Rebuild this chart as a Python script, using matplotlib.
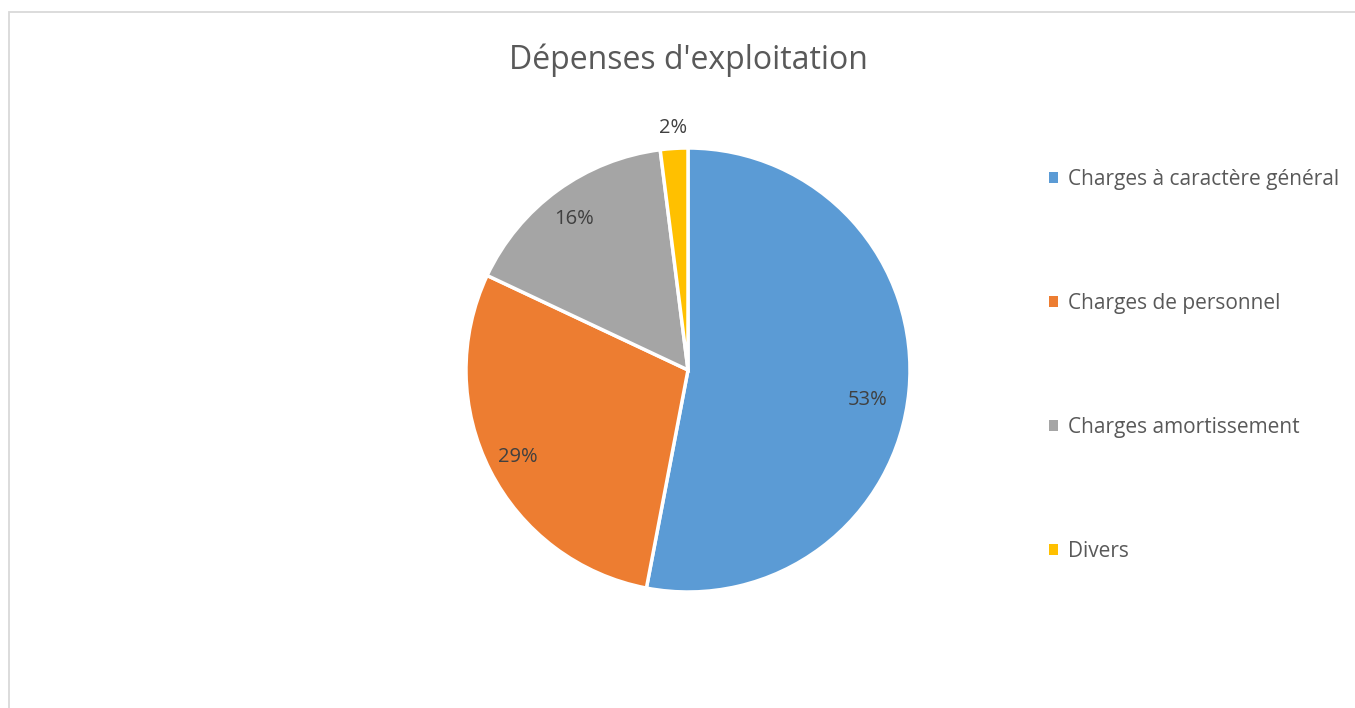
import numpy as np
import matplotlib.pyplot as plt
from matplotlib.patches import Patch, Rectangle

# data
categories = ["Charges à caractère général", "Charges de personnel",
              "Charges amortissement", "Divers"]
values = [53, 29, 16, 2]
colors = ["#5B9BD5", "#ED7D31", "#A5A5A5", "#FFC000"]
title = "Dépenses d'exploitation"

# label placement (radius as fraction of pie radius, angle nudge in degrees)
label_radius = [0.82, 0.86, 0.85, 1.09]
label_nudge = [-4, 0, 1, 0]

plt.rcParams['font.family'] = ['Open Sans', 'DejaVu Sans']

fig = plt.figure(figsize=(13.55, 7.08), dpi=100)

# outer chart border
fig.patches.append(Rectangle((9 / 1355, -0.01), 1.0, (708 - 12) / 708 + 0.01,
                             transform=fig.transFigure, fill=False,
                             edgecolor="#D9D9D9", linewidth=1.3))

cx, cy, r = 688, 370, 222
ax = fig.add_axes([(cx - r) / 1355, (708 - cy - r) / 708, 2 * r / 1355, 2 * r / 708])
wedges, _ = ax.pie(values, colors=colors, startangle=90, counterclock=False,
                   radius=1, wedgeprops=dict(edgecolor="white", linewidth=2.5))
ax.set_xlim(-1, 1)
ax.set_ylim(-1, 1)
ax.set_aspect("equal")
ax.axis("off")

total = sum(values)
for w, v, rr, dn in zip(wedges, values, label_radius, label_nudge):
    ang = np.deg2rad((w.theta1 + w.theta2) / 2 + dn)
    ax.text(rr * np.cos(ang), rr * np.sin(ang), "%d%%" % round(100 * v / total),
            ha="center", va="center", fontsize=14.5, color="#404040")

fig.text(cx / 1355, 1 - 60 / 708, title, ha="center", va="center",
         fontsize=23, color="#595959")

handles = [Patch(facecolor=c, edgecolor="none") for c in colors]
fig.legend(handles, categories, loc="upper left",
           bbox_to_anchor=(1030 / 1355, 1 - 150 / 708), frameon=False,
           fontsize=15, labelcolor="#595959", handlelength=0.45,
           handleheight=0.45, handletextpad=0.45, labelspacing=4.95)

fig.savefig("out.png", dpi=100)
